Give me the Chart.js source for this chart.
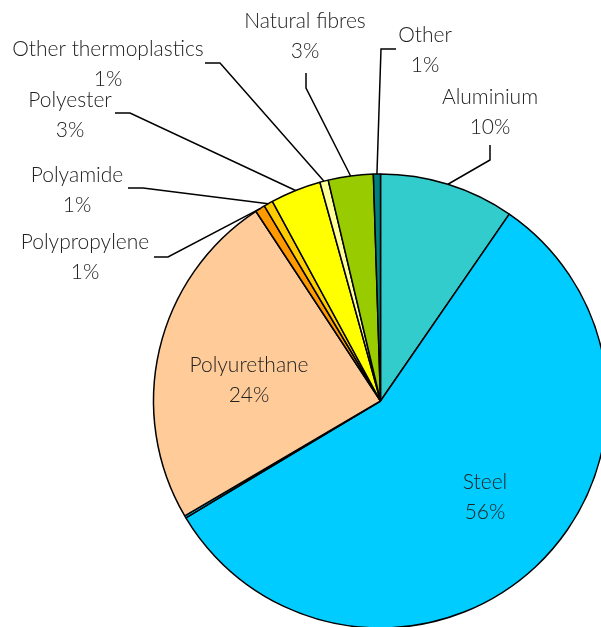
<!DOCTYPE html>
<html>
<head>
<meta charset="utf-8">
<script src="https://cdn.jsdelivr.net/npm/chart.js@4"></script>
<style>
    body { margin: 0; background: #fff; }
    #wrap { width: 601px; height: 627px; position: relative; }
</style>
</head>
<body>
<div id="wrap"><canvas id="chart" width="601" height="627"></canvas></div>
<script>
// ─── DATA ─────────────────────────────────────────────────
const categories = ['Aluminium', 'Steel', '', 'Polyurethane', 'Polypropylene', 'Polyamide',
    'Polyester', 'Other thermoplastics', 'Natural fibres', 'Other']
const shares = [9.6, 56.8, 0.15, 24.2, 0.7, 0.65, 3.6, 0.6, 3.2, 0.5]
const shareLabels = ['10%', '56%', '', '24%', '1%', '1%', '3%', '1%', '3%', '1%']
const colors = ['#33CCCC', '#00CCFF', '#00CCFF', '#FFCC99', '#FF9900', '#FFCC00',
    '#FFFF00', '#FFFF99', '#99CC00', '#008080']

// ─── LABEL LAYOUT (text centre + leader elbow/end) ────────
const labelLayout = [
    { x: 490, y: 96, leader: [[490, 160], [490, 145]] },
    { x: 485, y: 481, leader: null },
    null,
    { x: 249, y: 364, leader: null },
    { x: 85, y: 241, leader: [[168, 257], [154, 257]] },
    { x: 77, y: 174, leader: [[143, 188], [128, 188]] },
    { x: 70, y: 99, leader: [[130, 113], [115, 113]] },
    { x: 108, y: 48, leader: [[220, 63], [205, 63]] },
    { x: 305, y: 20, leader: [[306, 88], [306, 73]] },
    { x: 425, y: 34, leader: [[381, 49], [396, 49]] }
]

const FONT_SIZE = 21
const LINE_GAP = 30

const labelPlugin = {
    id: 'pieLabels',
    afterDatasetsDraw(chart) {
        const ctx = chart.ctx
        const meta = chart.getDatasetMeta(0)
        ctx.save()
        ctx.strokeStyle = '#000'
        ctx.lineWidth = 1.5
        ctx.fillStyle = '#222'
        ctx.font = `300 ${FONT_SIZE}px Lato, "DejaVu Sans", sans-serif`
        ctx.textAlign = 'center'
        ctx.textBaseline = 'alphabetic'
        labelLayout.forEach((lay, i) => {
            if (!lay) return
            const el = meta.data[i]
            const p = el.getProps(['x', 'y', 'startAngle', 'endAngle', 'outerRadius'], true)
            if (lay.leader) {
                const mid = (p.startAngle + p.endAngle) / 2
                ctx.beginPath()
                ctx.moveTo(p.x + Math.cos(mid) * p.outerRadius, p.y + Math.sin(mid) * p.outerRadius)
                lay.leader.forEach(([lx, ly]) => ctx.lineTo(lx, ly))
                ctx.stroke()
            }
            const off = FONT_SIZE * 0.36
            ctx.fillText(categories[i], lay.x, lay.y + off)
            ctx.fillText(shareLabels[i], lay.x, lay.y + LINE_GAP + off)
        })
        ctx.restore()
    }
}

new Chart(document.getElementById('chart'), {
    type: 'pie',
    data: {
        labels: categories,
        datasets: [{
            data: shares,
            backgroundColor: colors,
            borderColor: '#000',
            borderWidth: 1.5,
            clip: false
        }]
    },
    options: {
        responsive: false,
        animation: false,
        radius: 227,
        layout: { padding: { left: 160, right: 0, top: 175, bottom: 0 } },
        plugins: {
            legend: { display: false },
            tooltip: { enabled: false }
        }
    },
    plugins: [labelPlugin]
})
</script>
</body>
</html>
